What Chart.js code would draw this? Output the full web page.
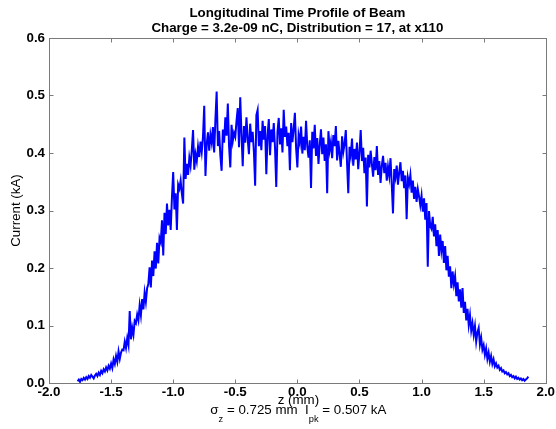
<!DOCTYPE html>
<html>
<head>
<meta charset="utf-8">
<script src="https://cdn.jsdelivr.net/npm/chart.js@4.4.1/dist/chart.umd.min.js"></script>
<style>
  html, body { margin: 0; padding: 0; background: #fff; }
  canvas { display: block; }
</style>
</head>
<body>
<canvas id="profile" width="556" height="429"></canvas>
<script>
const titleLines = ['Longitudinal Time Profile of Beam', 'Charge = 3.2e-09 nC, Distribution = 17, at x110'];
const xLabel = 'z (mm)';
const yLabel = 'Current (kA)';
const sigmaZ = '0.725';
const peakCurrent = '0.507';

const xTicks = [-2.0, -1.5, -1.0, -0.5, 0.0, 0.5, 1.0, 1.5, 2.0];
const yTicks = [0.0, 0.1, 0.2, 0.3, 0.4, 0.5, 0.6];

// z positions (mm)
const zValues = [
  -1.77, -1.76, -1.75, -1.74, -1.73, -1.72, -1.71,
  -1.70, -1.69, -1.68, -1.67, -1.66, -1.65, -1.64, -1.63, -1.62, -1.61,
  -1.60, -1.59, -1.58, -1.57, -1.56, -1.55, -1.54, -1.53, -1.52, -1.51,
  -1.50, -1.49, -1.48, -1.47, -1.46, -1.45, -1.44, -1.43, -1.42, -1.41,
  -1.40, -1.39, -1.38, -1.37, -1.36, -1.35, -1.34, -1.33, -1.32, -1.31,
  -1.30, -1.29, -1.28, -1.27, -1.26, -1.25, -1.24, -1.23, -1.22, -1.21,
  -1.20, -1.19, -1.18, -1.17, -1.16, -1.15, -1.14, -1.13, -1.12, -1.11,
  -1.10, -1.09, -1.08, -1.07, -1.06, -1.05, -1.04, -1.03, -1.02, -1.01,
  -1.00, -0.99, -0.98, -0.97, -0.96, -0.95, -0.94, -0.93, -0.92, -0.91,
  -0.90, -0.89, -0.88, -0.87, -0.86, -0.85, -0.84, -0.83, -0.82, -0.81,
  -0.80, -0.79, -0.78, -0.77, -0.76, -0.75, -0.74, -0.73, -0.72, -0.71,
  -0.70, -0.69, -0.68, -0.67, -0.66, -0.65, -0.64, -0.63, -0.62, -0.61,
  -0.60, -0.59, -0.58, -0.57, -0.56, -0.55, -0.54, -0.53, -0.52, -0.51,
  -0.50, -0.49, -0.48, -0.47, -0.46, -0.45, -0.44, -0.43, -0.42, -0.41,
  -0.40, -0.39, -0.38, -0.37, -0.36, -0.35, -0.34, -0.33, -0.32, -0.31,
  -0.30, -0.29, -0.28, -0.27, -0.26, -0.25, -0.24, -0.23, -0.22, -0.21,
  -0.20, -0.19, -0.18, -0.17, -0.16, -0.15, -0.14, -0.13, -0.12, -0.11,
  -0.10, -0.09, -0.08, -0.07, -0.06, -0.05, -0.04, -0.03, -0.02, -0.01,
  0.00, 0.01, 0.02, 0.03, 0.04, 0.05, 0.06, 0.07, 0.08, 0.09,
  0.10, 0.11, 0.12, 0.13, 0.14, 0.15, 0.16, 0.17, 0.18, 0.19,
  0.20, 0.21, 0.22, 0.23, 0.24, 0.25, 0.26, 0.27, 0.28, 0.29,
  0.30, 0.31, 0.32, 0.33, 0.34, 0.35, 0.36, 0.37, 0.38, 0.39,
  0.40, 0.41, 0.42, 0.43, 0.44, 0.45, 0.46, 0.47, 0.48, 0.49,
  0.50, 0.51, 0.52, 0.53, 0.54, 0.55, 0.56, 0.57, 0.58, 0.59,
  0.60, 0.61, 0.62, 0.63, 0.64, 0.65, 0.66, 0.67, 0.68, 0.69,
  0.70, 0.71, 0.72, 0.73, 0.74, 0.75, 0.76, 0.77, 0.78, 0.79,
  0.80, 0.81, 0.82, 0.83, 0.84, 0.85, 0.86, 0.87, 0.88, 0.89,
  0.90, 0.91, 0.92, 0.93, 0.94, 0.95, 0.96, 0.97, 0.98, 0.99,
  1.00, 1.01, 1.02, 1.03, 1.04, 1.05, 1.06, 1.07, 1.08, 1.09,
  1.10, 1.11, 1.12, 1.13, 1.14, 1.15, 1.16, 1.17, 1.18, 1.19,
  1.20, 1.21, 1.22, 1.23, 1.24, 1.25, 1.26, 1.27, 1.28, 1.29,
  1.30, 1.31, 1.32, 1.33, 1.34, 1.35, 1.36, 1.37, 1.38, 1.39,
  1.40, 1.41, 1.42, 1.43, 1.44, 1.45, 1.46, 1.47, 1.48, 1.49,
  1.50, 1.51, 1.52, 1.53, 1.54, 1.55, 1.56, 1.57, 1.58, 1.59,
  1.60, 1.61, 1.62, 1.63, 1.64, 1.65, 1.66, 1.67, 1.68, 1.69,
  1.70, 1.71, 1.72, 1.73, 1.74, 1.75, 1.76, 1.77, 1.78, 1.79,
  1.80, 1.81, 1.82, 1.83, 1.84, 1.85, 1.86
];

// current (kA)
const currentValues = [
  0.003, 0.006, 0.002, 0.007, 0.005, 0.009, 0.006,
  0.010, 0.007, 0.012, 0.009, 0.014, 0.011, 0.008, 0.013, 0.016, 0.012,
  0.018, 0.014, 0.021, 0.017, 0.024, 0.020, 0.027, 0.022, 0.030, 0.025,
  0.034, 0.026, 0.041, 0.033, 0.047, 0.037, 0.055, 0.042, 0.053, 0.058,
  0.057, 0.072, 0.061, 0.078, 0.066, 0.125, 0.076, 0.096, 0.084, 0.108,
  0.104, 0.119, 0.109, 0.135, 0.118, 0.146, 0.128, 0.157, 0.141, 0.165,
  0.172, 0.201, 0.166, 0.213, 0.186, 0.229, 0.199, 0.244, 0.208, 0.252,
  0.245, 0.283, 0.222, 0.296, 0.259, 0.312, 0.274, 0.301, 0.266, 0.323,
  0.367, 0.302, 0.330, 0.266, 0.345, 0.338, 0.352, 0.329, 0.312, 0.427,
  0.355, 0.381, 0.362, 0.392, 0.378, 0.405, 0.440, 0.371, 0.398, 0.386,
  0.411, 0.393, 0.420, 0.402, 0.428, 0.482, 0.360, 0.415, 0.436, 0.404,
  0.432, 0.418, 0.445, 0.401, 0.458, 0.507, 0.412, 0.438, 0.395, 0.369,
  0.441, 0.418, 0.462, 0.430, 0.486, 0.412, 0.375, 0.449, 0.421, 0.435,
  0.428, 0.456, 0.478, 0.410, 0.497, 0.433, 0.377, 0.447, 0.418, 0.462,
  0.425, 0.398, 0.451, 0.419, 0.437, 0.402, 0.343, 0.466, 0.475, 0.412,
  0.438, 0.405, 0.456, 0.423, 0.447, 0.363, 0.430, 0.459, 0.396, 0.441,
  0.419, 0.452, 0.409, 0.341, 0.437, 0.461, 0.415, 0.443, 0.401, 0.475,
  0.428, 0.446, 0.412, 0.435, 0.370, 0.452, 0.419, 0.441, 0.470, 0.408,
  0.375, 0.431, 0.418, 0.446, 0.399, 0.428, 0.405, 0.456, 0.411, 0.392,
  0.422, 0.339, 0.437, 0.408, 0.449, 0.395, 0.426, 0.381, 0.414, 0.441,
  0.398, 0.427, 0.386, 0.415, 0.330, 0.438, 0.405, 0.419, 0.391, 0.431,
  0.412, 0.447, 0.387, 0.421, 0.398, 0.376, 0.429, 0.402, 0.416, 0.440,
  0.383, 0.330, 0.411, 0.396, 0.425, 0.378, 0.407, 0.389, 0.418, 0.372,
  0.401, 0.440, 0.386, 0.409, 0.365, 0.392, 0.307, 0.397, 0.375, 0.404,
  0.381, 0.359, 0.393, 0.370, 0.412, 0.362, 0.386, 0.348, 0.378, 0.395,
  0.365, 0.383, 0.352, 0.376, 0.360, 0.391, 0.346, 0.295, 0.372, 0.358,
  0.378, 0.345, 0.366, 0.384, 0.351, 0.369, 0.339, 0.361, 0.285, 0.357,
  0.346, 0.362, 0.331, 0.352, 0.320, 0.341, 0.315, 0.337, 0.324, 0.309,
  0.326, 0.298, 0.321, 0.284, 0.313, 0.202, 0.299, 0.273, 0.268, 0.289,
  0.255, 0.276, 0.238, 0.266, 0.221, 0.258, 0.230, 0.247, 0.209, 0.238,
  0.196, 0.221, 0.185, 0.203, 0.165, 0.194, 0.172, 0.186, 0.151, 0.175,
  0.142, 0.163, 0.131, 0.165, 0.122, 0.141, 0.109, 0.129, 0.101, 0.118,
  0.091, 0.104, 0.084, 0.099, 0.072, 0.088, 0.096, 0.067, 0.079, 0.058,
  0.066, 0.049, 0.060, 0.042, 0.053, 0.037, 0.047, 0.033, 0.041, 0.029,
  0.034, 0.027, 0.030, 0.023, 0.026, 0.020, 0.022, 0.017, 0.019, 0.015,
  0.017, 0.012, 0.014, 0.010, 0.012, 0.008, 0.011, 0.007, 0.009, 0.006,
  0.008, 0.005, 0.007, 0.004, 0.006, 0.008, 0.011
];

const FONT = '"Liberation Sans", Arial, sans-serif';
const FS = 13.33;

// frame, inward ticks and all the label text
const decorations = {
  id: 'decorations',
  afterDraw(chart) {
    const { ctx, chartArea: a, scales } = chart;
    const L = Math.round(a.left) + 0.5;
    const R = Math.round(a.right) + 0.5;
    const T = Math.round(a.top) + 0.5;
    const B = Math.round(a.bottom) + 0.5;
    ctx.save();
    ctx.strokeStyle = '#7a7a7a';
    ctx.lineWidth = 1;
    ctx.strokeRect(L, T, R - L, B - T);
    ctx.beginPath();
    xTicks.forEach(v => {
      const x = Math.round(scales.x.getPixelForValue(v)) + 0.5;
      ctx.moveTo(x, B); ctx.lineTo(x, B - 4);
      ctx.moveTo(x, T); ctx.lineTo(x, T + 4);
    });
    yTicks.forEach(v => {
      const y = Math.round(scales.y.getPixelForValue(v)) + 0.5;
      ctx.moveTo(L, y); ctx.lineTo(L + 4, y);
      ctx.moveTo(R, y); ctx.lineTo(R - 4, y);
    });
    ctx.stroke();

    const cx = (a.left + a.right) / 2;
    ctx.fillStyle = '#000';
    ctx.textAlign = 'center';
    ctx.textBaseline = 'alphabetic';
    ctx.font = 'bold ' + FS + 'px ' + FONT;
    ctx.fillText(titleLines[0], cx, 17);
    ctx.fillText(titleLines[1], cx, 32);

    ctx.font = FS + 'px ' + FONT;
    ctx.fillText(xLabel, cx + 1, 403.5);

    // sigma_z and I_pk line with subscripts
    const parts = [
      ['\u03c3', 0], ['z', 1], [' = ' + sigmaZ + ' mm  I', 0], ['pk', 1], [' = ' + peakCurrent + ' kA', 0]
    ];
    const mainFont = FS + 'px ' + FONT;
    const subFont = '9.3px ' + FONT;
    let total = 0;
    parts.forEach(([t, sub]) => { ctx.font = sub ? subFont : mainFont; total += ctx.measureText(t).width; });
    let x = cx + 1 - total / 2;
    ctx.textAlign = 'left';
    parts.forEach(([t, sub]) => {
      ctx.font = sub ? subFont : mainFont;
      ctx.fillText(t, x, sub ? 422 : 414);
      x += ctx.measureText(t).width;
    });

    ctx.font = FS + 'px ' + FONT;
    ctx.translate(16, (a.top + a.bottom) / 2);
    ctx.rotate(-Math.PI / 2);
    ctx.textAlign = 'center';
    ctx.textBaseline = 'middle';
    ctx.fillText(yLabel, 0, 0);
    ctx.restore();
  }
};

const tickFont = { family: FONT, size: FS, weight: 'bold' };

new Chart(document.getElementById('profile'), {
  type: 'line',
  data: {
    datasets: [{
      data: zValues.map((z, i) => ({ x: z, y: currentValues[i] })),
      borderColor: '#0000ff',
      borderWidth: 2,
      pointRadius: 0,
      tension: 0,
      fill: false
    }]
  },
  options: {
    responsive: false,
    animation: false,
    events: [],
    layout: { padding: { top: 38, right: 9, left: 0, bottom: 0 } },
    plugins: { legend: { display: false }, tooltip: { enabled: false }, title: { display: false } },
    scales: {
      x: {
        type: 'linear',
        min: -2, max: 2,
        afterBuildTicks: s => { s.ticks = xTicks.map(v => ({ value: v })); },
        afterFit: s => { s.height = 46; },
        ticks: {
          font: tickFont, color: '#000', padding: 1,
          maxRotation: 0, autoSkip: false,
          callback: v => v.toFixed(1)
        },
        grid: { display: false, drawTicks: false },
        border: { display: false }
      },
      y: {
        min: 0, max: 0.6,
        afterBuildTicks: s => { s.ticks = yTicks.map(v => ({ value: v })); },
        afterFit: s => { s.width = 49; },
        ticks: {
          font: tickFont, color: '#000', padding: 4,
          callback: v => v.toFixed(1)
        },
        grid: { display: false, drawTicks: false },
        border: { display: false }
      }
    }
  },
  plugins: [decorations]
});
</script>
</body>
</html>
